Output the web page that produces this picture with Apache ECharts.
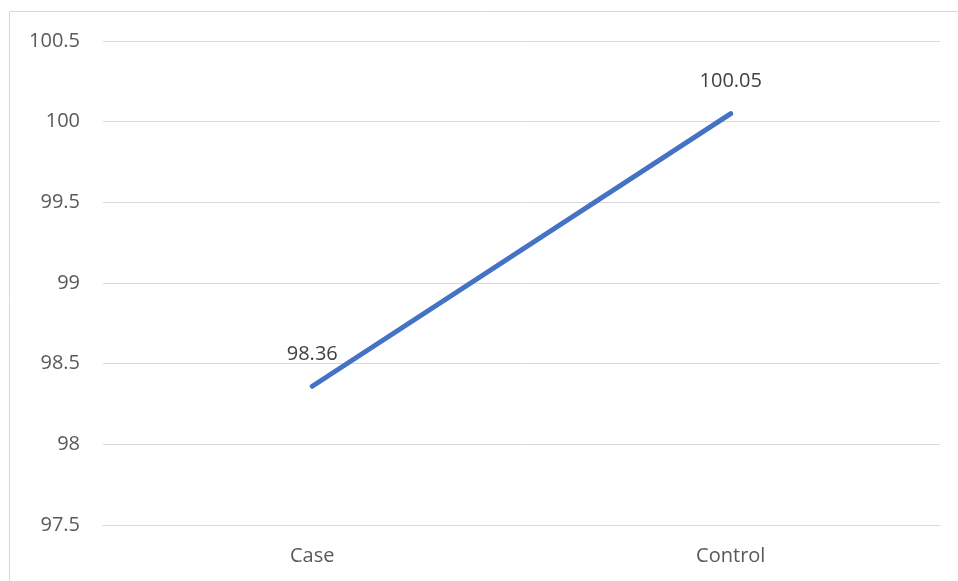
<!DOCTYPE html>
<html>
<head>
<meta charset="utf-8">
<script src="https://cdn.jsdelivr.net/npm/echarts@6/dist/echarts.min.js"></script>
<style>
  html, body { margin: 0; padding: 0; background: #fff; }
  #chart { width: 958px; height: 581px; }
</style>
</head>
<body>
<div id="chart"></div>
<script>
// Group means
const categories = ['Case', 'Control'];
const values = [98.36, 100.05];

// Y axis range
const yMin = 97.5;
const yMax = 100.5;
const yStep = 0.5;

const chart = echarts.init(document.getElementById('chart'), null, { renderer: 'canvas' });
const textFont = '"Open Sans", "Liberation Sans", sans-serif';

chart.setOption({
  animation: false,
  backgroundColor: '#fff',
  graphic: [{
    type: 'rect',
    shape: { x: 9.5, y: 11.5, width: 1000, height: 1000 },
    style: { fill: 'none', stroke: '#d9d9d9', lineWidth: 1 },
    silent: true
  }],
  grid: { left: 103, right: 18, top: 41, bottom: 56, containLabel: false },
  xAxis: {
    type: 'category',
    data: categories,
    boundaryGap: true,
    axisLine: { show: true, lineStyle: { color: '#d9d9d9', width: 1 } },
    axisTick: { show: false },
    axisLabel: { color: '#595959', fontSize: 20, fontFamily: textFont, margin: 21 }
  },
  yAxis: {
    type: 'value',
    min: yMin,
    max: yMax,
    interval: yStep,
    axisLine: { show: false },
    axisTick: { show: false },
    splitLine: { lineStyle: { color: '#d9d9d9', width: 1 } },
    axisLabel: {
      color: '#595959', fontSize: 20, fontFamily: textFont, margin: 23,
      formatter: v => String(Math.round(v * 10) / 10)
    }
  },
  series: [{
    type: 'line',
    data: values,
    symbol: 'circle',
    symbolSize: 2,
    showSymbol: true,
    itemStyle: { color: '#4472C4', borderWidth: 0 },
    lineStyle: { color: '#4472C4', width: 5, cap: 'round' },
    label: {
      show: true,
      position: 'top',
      distance: 21,
      color: '#404040',
      fontSize: 20,
      fontFamily: textFont,
      formatter: p => p.value.toFixed(2)
    }
  }]
});
</script>
</body>
</html>
